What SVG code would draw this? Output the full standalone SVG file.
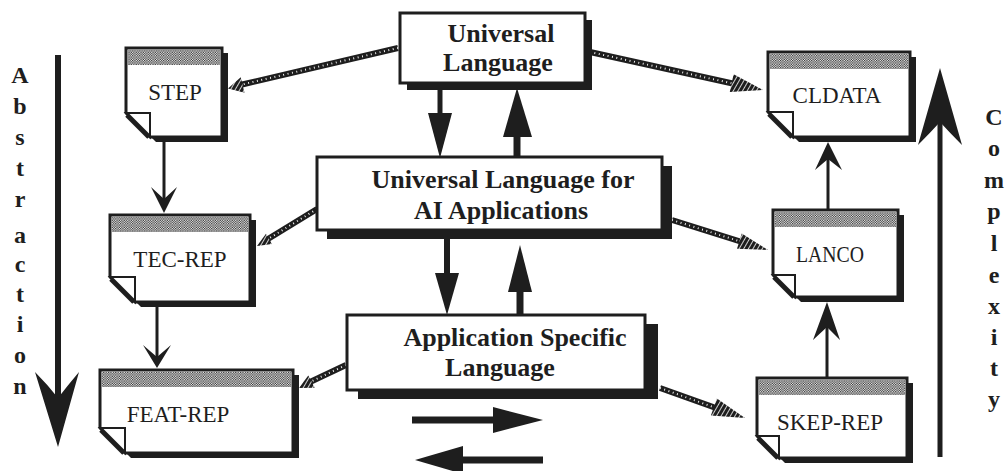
<svg xmlns="http://www.w3.org/2000/svg" width="1006" height="471" viewBox="0 0 1006 471">
<defs>
<pattern id="dots" width="2.4" height="2.4" patternUnits="userSpaceOnUse">
<rect width="2.4" height="2.4" fill="#fff"/>
<rect width="1.2" height="1.2" fill="#222"/>
<rect x="1.2" y="1.2" width="1.2" height="1.2" fill="#222"/>
</pattern>
<pattern id="hatch" width="4" height="4" patternUnits="userSpaceOnUse" patternTransform="rotate(30)">
<rect width="4" height="4" fill="#1e1e1e"/>
<rect width="0.8" height="4" fill="#fff"/>
</pattern>
</defs>
<style>
.bg{fill:#fff}
.box{fill:#fff;stroke:#1e1e1e;stroke-width:3}
.shd{fill:#1e1e1e}
.band{fill:url(#dots)}
.flap{fill:#fff;stroke:#1e1e1e;stroke-width:2}
.fold{stroke:#1e1e1e;stroke-width:5;fill:none}
.doc{font-family:"Liberation Serif","Times New Roman",serif;font-size:23px;fill:#1e1e1e;text-anchor:middle}
.lbl{font-family:"Liberation Serif","Times New Roman",serif;font-size:26px;font-weight:bold;fill:#1e1e1e;text-anchor:middle}
.side{font-family:"Liberation Serif","Times New Roman",serif;font-size:24px;font-weight:bold;fill:#1e1e1e;text-anchor:middle}
.thin{stroke:#1e1e1e;stroke-width:3;fill:none}
.shaft{stroke:#1e1e1e;fill:none}
.head{fill:#1e1e1e}
.ropeb{stroke:#1e1e1e;stroke-width:6;fill:none}
.ropew{stroke:#fff;stroke-width:2;stroke-dasharray:0.9 3.6;fill:none}
.rhead{fill:url(#hatch)}
</style>
<rect class="bg" x="0" y="0" width="1006" height="471"/>

<g id="connectors">
<line class="ropeb" x1="398" y1="48" x2="240" y2="85"/>
<line class="ropew" x1="398" y1="48" x2="240" y2="85"/>
<polygon class="rhead" points="228,88.5 240.7,77.2 244.5,92.8"/>

<line class="ropeb" x1="590" y1="52" x2="735" y2="84"/>
<line class="ropew" x1="590" y1="52" x2="735" y2="84"/>
<polygon class="rhead" points="763,90 733.6,74.3 729.8,91.9"/>

<line class="ropeb" x1="317" y1="209" x2="268" y2="239"/>
<line class="ropew" x1="317" y1="209" x2="268" y2="239"/>
<polygon class="rhead" points="257,246 266,233.7 272,244.1"/>

<line class="ropeb" x1="672" y1="220" x2="742" y2="242"/>
<line class="ropew" x1="672" y1="220" x2="742" y2="242"/>
<polygon class="rhead" points="768,250 741.8,233.5 737,248.7"/>

<line class="ropeb" x1="346" y1="365" x2="310" y2="382"/>
<line class="ropew" x1="346" y1="365" x2="310" y2="382"/>
<polygon class="rhead" points="299,388 308.3,375.4 314.7,387.8"/>

<line class="ropeb" x1="660" y1="388" x2="716" y2="408"/>
<line class="ropew" x1="660" y1="388" x2="716" y2="408"/>
<polygon class="rhead" points="745,418 716.9,398.5 710.9,415.5"/>

<line class="thin" x1="164" y1="142" x2="164" y2="200"/>
<polygon class="head" points="164,213 151,187 164,199 177,187"/>
<line class="thin" x1="157" y1="307" x2="157" y2="358"/>
<polygon class="head" points="157,368 143,345 157,357 171,345"/>
<line class="thin" x1="828" y1="210" x2="828" y2="155"/>
<polygon class="head" points="828,142 815,170 828,159 842,170"/>
<line class="thin" x1="827" y1="378" x2="827" y2="315"/>
<polygon class="head" points="827,302 813,340 827,327 840,340"/>

<line class="shaft" stroke-width="5" x1="440" y1="89" x2="440" y2="115"/>
<polygon class="head" points="428,113 452,113 440,158"/>
<line class="shaft" stroke-width="7" x1="517" y1="157" x2="517" y2="135"/>
<polygon class="head" points="503,137 532,137 517,88"/>
<line class="shaft" stroke-width="6" x1="447" y1="239" x2="447" y2="275"/>
<polygon class="head" points="435,273 459,273 447,315"/>
<line class="shaft" stroke-width="7" x1="520" y1="314" x2="520" y2="290"/>
<polygon class="head" points="508,292 532,292 520,245"/>

<line class="shaft" stroke-width="7" x1="412" y1="420" x2="495" y2="420"/>
<polygon class="head" points="493,407 493,433 543,420"/>
<line class="shaft" stroke-width="7" x1="543" y1="460" x2="461" y2="460"/>
<polygon class="head" points="463,446 463,474 415,460"/>

<line class="shaft" stroke-width="6" x1="58" y1="55" x2="58" y2="400"/>
<path class="head" d="M58,447 L35,372 Q48,385 58,398 Q68,385 79,372 Z"/>
<line class="shaft" stroke-width="5" x1="940" y1="457" x2="940" y2="120"/>
<path class="head" d="M940,68 L918,145 Q930,133 940,122 Q950,133 962,145 Z"/>
</g>

<g id="abstraction-label">
<text class="side" x="20" y="83">A</text>
<text class="side" x="20" y="114">b</text>
<text class="side" x="20" y="145">s</text>
<text class="side" x="20" y="176">t</text>
<text class="side" x="20" y="207">r</text>
<text class="side" x="20" y="243">a</text>
<text class="side" x="20" y="272">c</text>
<text class="side" x="20" y="302">t</text>
<text class="side" x="20" y="332">i</text>
<text class="side" x="20" y="363">o</text>
<text class="side" x="20" y="394">n</text>
</g>

<g id="complexity-label">
<text class="side" x="994" y="125">C</text>
<text class="side" x="994" y="156">o</text>
<text class="side" x="994" y="188">m</text>
<text class="side" x="994" y="219">p</text>
<text class="side" x="994" y="251">l</text>
<text class="side" x="994" y="283">e</text>
<text class="side" x="994" y="314">x</text>
<text class="side" x="994" y="345">i</text>
<text class="side" x="994" y="376">t</text>
<text class="side" x="994" y="407">y</text>
</g>

<g id="universal-language">
<rect class="shd" x="407" y="20" width="185" height="70"/>
<rect class="box" x="400" y="13" width="185" height="70"/>
<text class="lbl" x="501" y="42">Universal</text>
<text class="lbl" x="498" y="71">Language</text>
</g>

<g id="universal-language-ai">
<rect class="shd" x="327" y="166" width="345" height="73"/>
<rect class="box" x="317" y="157" width="345" height="73"/>
<text class="lbl" x="503" y="188">Universal Language for</text>
<text class="lbl" x="501" y="219">AI Applications</text>
</g>

<g id="application-specific-language">
<rect class="shd" x="358" y="324" width="300" height="75"/>
<rect class="box" x="347" y="315" width="298" height="75"/>
<text class="lbl" x="515" y="346">Application Specific</text>
<text class="lbl" x="500" y="376">Language</text>
</g>

<g id="step">
<path class="shd" d="M132 53 H228 V142 H156 L132 118 Z"/>
<path class="box" d="M126 48 H222 V137 H150 L126 113 Z"/>
<rect class="band" x="128" y="50" width="92" height="15"/>
<path class="flap" d="M126 113 H150 V137 Z"/>
<line class="fold" x1="127" y1="115" x2="149" y2="137"/>
<text class="doc" x="175" y="100">STEP</text>
</g>

<g id="tec-rep">
<path class="shd" d="M116 220 H256 V307 H141 L116 282 Z"/>
<path class="box" d="M110 215 H250 V302 H135 L110 277 Z"/>
<rect class="band" x="112" y="217" width="136" height="15"/>
<path class="flap" d="M110 277 H135 V302 Z"/>
<line class="fold" x1="111" y1="279" x2="134" y2="302"/>
<text class="doc" x="180" y="267">TEC-REP</text>
</g>

<g id="feat-rep">
<path class="shd" d="M106 375 H299 V458 H131 L106 433 Z"/>
<path class="box" d="M100 370 H293 V453 H125 L100 428 Z"/>
<rect class="band" x="102" y="372" width="189" height="15"/>
<path class="flap" d="M100 428 H125 V453 Z"/>
<line class="fold" x1="101" y1="430" x2="124" y2="453"/>
<text class="doc" x="178" y="422">FEAT-REP</text>
</g>

<g id="cldata">
<path class="shd" d="M774 57 H916 V142 H799 L774 117 Z"/>
<path class="box" d="M768 52 H910 V137 H793 L768 112 Z"/>
<rect class="band" x="770" y="54" width="138" height="15"/>
<path class="flap" d="M768 112 H793 V137 Z"/>
<line class="fold" x1="769" y1="114" x2="792" y2="137"/>
<text class="doc" x="837" y="103">CLDATA</text>
</g>

<g id="lanco">
<path class="shd" d="M779 215 H904 V302 H801 L779 280 Z"/>
<path class="box" d="M773 210 H898 V297 H795 L773 275 Z"/>
<rect class="band" x="775" y="212" width="121" height="15"/>
<path class="flap" d="M773 275 H795 V297 Z"/>
<line class="fold" x1="774" y1="277" x2="794" y2="297"/>
<text class="doc" x="830" y="262" textLength="68" lengthAdjust="spacingAndGlyphs">LANCO</text>
</g>

<g id="skep-rep">
<path class="shd" d="M763 383 H913 V463 H785 L763 441 Z"/>
<path class="box" d="M757 378 H907 V458 H779 L757 436 Z"/>
<rect class="band" x="759" y="380" width="146" height="15"/>
<path class="flap" d="M757 436 H779 V458 Z"/>
<line class="fold" x1="758" y1="438" x2="778" y2="458"/>
<text class="doc" x="830" y="430">SKEP-REP</text>
</g>
</svg>
